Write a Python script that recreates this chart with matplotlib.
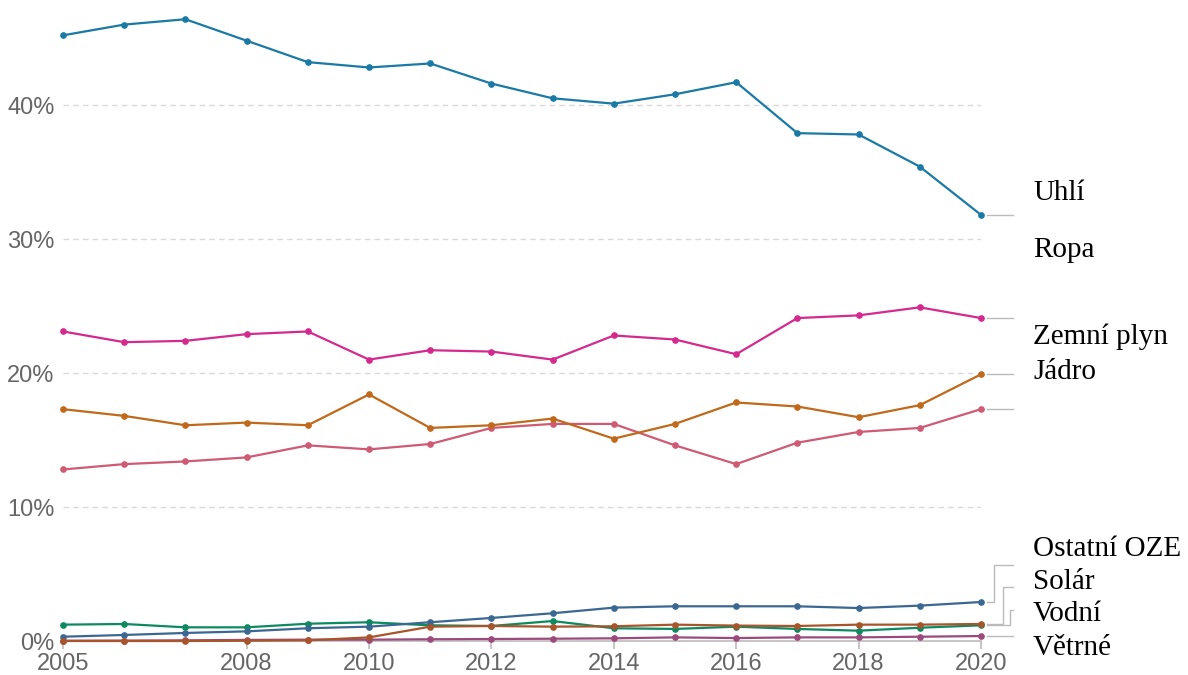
import matplotlib
matplotlib.use("Agg")
import matplotlib.pyplot as plt

# data (share of primary energy, %)
years = list(range(2005, 2021))
uhli = [45.2, 46.0, 46.4, 44.8, 43.2, 42.8, 43.1, 41.6, 40.5, 40.1, 40.8, 41.7, 37.9, 37.8, 35.4, 31.8]
ropa = [23.1, 22.3, 22.4, 22.9, 23.1, 21.0, 21.7, 21.6, 21.0, 22.8, 22.5, 21.4, 24.1, 24.3, 24.9, 24.1]
plyn = [17.3, 16.8, 16.1, 16.3, 16.1, 18.4, 15.9, 16.1, 16.6, 15.1, 16.2, 17.8, 17.5, 16.7, 17.6, 19.9]
jadro = [12.8, 13.2, 13.4, 13.7, 14.6, 14.3, 14.7, 15.9, 16.2, 16.2, 14.6, 13.2, 14.8, 15.6, 15.9, 17.3]
ostatni_oze = [0.32, 0.45, 0.60, 0.72, 0.95, 1.07, 1.40, 1.72, 2.07, 2.49, 2.59, 2.59, 2.59, 2.46, 2.64, 2.91]
solar = [0.0, 0.0, 0.0, 0.02, 0.05, 0.27, 1.07, 1.12, 1.07, 1.10, 1.22, 1.15, 1.12, 1.22, 1.22, 1.27]
vodni = [1.22, 1.27, 1.02, 1.02, 1.29, 1.40, 1.17, 1.12, 1.49, 0.95, 0.90, 1.07, 0.90, 0.77, 0.99, 1.17]
vetrne = [0.02, 0.03, 0.05, 0.08, 0.10, 0.10, 0.13, 0.15, 0.17, 0.20, 0.27, 0.22, 0.27, 0.27, 0.32, 0.37]

x_ticks = [2005, 2008, 2010, 2012, 2014, 2016, 2018, 2020]
y_ticks = [0, 10, 20, 30, 40]

series = [
    ("Větrné", vetrne, "#9b4a7c"),
    ("Vodní", vodni, "#0d8a5f"),
    ("Ostatní OZE", ostatni_oze, "#3b6893"),
    ("Solár", solar, "#a8552b"),
    ("Jádro", jadro, "#cf5a73"),
    ("Zemní plyn", plyn, "#c0691b"),
    ("Ropa", ropa, "#d42a8e"),
    ("Uhlí", uhli, "#1a7aa5"),
]

# label text positions (y in %)
label_y = {"Uhlí": 33.4, "Ropa": 29.2, "Zemní plyn": 22.7, "Jádro": 20.1,
           "Ostatní OZE": 6.9, "Solár": 4.4, "Vodní": 2.0, "Větrné": -0.5}

W, H = 1188, 675
fig = plt.figure(figsize=(W / 100, H / 100), dpi=100)
ax = fig.add_axes([63 / W, 34 / H, (981 - 63) / W, 641 / H])
px_per = 13.4
ax.set_xlim(2005, 2020)
ax.set_ylim(0, 641 / px_per)

for name, vals, col in series:
    ax.plot(years, vals, color=col, lw=1.6, marker="o", ms=3.8, clip_on=False, zorder=3)

for yv in y_ticks[1:]:
    ax.axhline(yv, color="#d9d9d9", lw=1, ls=(0, (4, 3)), zorder=1)
ax.axhline(0, color="#bbbbbb", lw=1.2, zorder=2, clip_on=False)

for s in ax.spines.values():
    s.set_visible(False)
ax.set_xticks(x_ticks)
ax.set_xticklabels([str(t) for t in x_ticks])
ax.set_yticks(y_ticks)
ax.set_yticklabels([f"{t}%" for t in y_ticks])
ax.tick_params(axis="x", length=6, width=1.2, color="#bbbbbb", labelcolor="#666666",
               labelsize=17, pad=3)
ax.tick_params(axis="y", length=0, labelcolor="#666666", labelsize=17, pad=6)
for lab in ax.get_xticklabels() + ax.get_yticklabels():
    lab.set_fontfamily("Liberation Sans")

# leader lines, drawn in data coords past the right edge
def xd(px):
    return 2005 + (px - 63) / (981 - 63) * 15

def yd(py):
    return (641 - py) / px_per

leader = "#bbbbbb"
last = {name: vals[-1] for name, vals, _ in series}
for name in ["Uhlí", "Ropa", "Zemní plyn", "Jádro", "Větrné"]:
    ax.plot([xd(987), xd(1013)], [last[name]] * 2, color=leader, lw=1, clip_on=False)
elbows = [("Ostatní OZE", 994, yd(565)), ("Solár", 1003, yd(587)), ("Vodní", 1010, yd(610))]
for name, xe, ye in elbows:
    y0 = last[name]
    ax.plot([xd(987), xd(xe), xd(xe), xd(1013)], [y0, y0, ye, ye],
            color=leader, lw=1, clip_on=False)

for name, ly in label_y.items():
    ax.text(xd(1033), ly, name, fontsize=21, family="Liberation Serif",
            va="center", ha="left", color="black", clip_on=False)

fig.savefig("out.png", dpi=100)
